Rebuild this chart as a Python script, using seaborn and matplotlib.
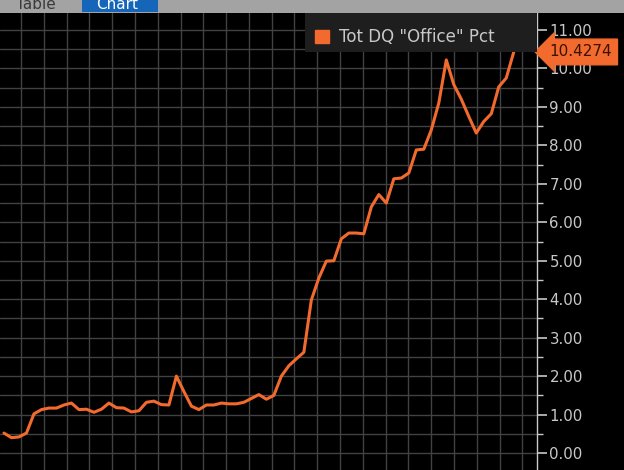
import numpy as np
import pandas as pd
import matplotlib
matplotlib.use("Agg")
import matplotlib.pyplot as plt
import seaborn as sns
from matplotlib.patches import Patch, Rectangle
from matplotlib.ticker import MultipleLocator, FormatStrFormatter

# Tot DQ "Office" Pct, monthly readings
dq_pct = [0.52, 0.40, 0.42, 0.52, 1.02, 1.13, 1.17, 1.17, 1.25, 1.30,
          1.13, 1.14, 1.06, 1.14, 1.30, 1.18, 1.17, 1.07, 1.10, 1.32,
          1.35, 1.26, 1.25, 2.00, 1.60, 1.22, 1.13, 1.25, 1.25, 1.30,
          1.28, 1.28, 1.32, 1.42, 1.52, 1.40, 1.50, 2.00, 2.27, 2.45,
          2.62, 3.98, 4.55, 4.99, 5.00, 5.57, 5.72, 5.72, 5.70, 6.40,
          6.72, 6.50, 7.13, 7.15, 7.28, 7.88, 7.90, 8.40, 9.10, 10.22,
          9.58, 9.20, 8.75, 8.32, 8.62, 8.82, 9.52, 9.75, 10.4274]
series_name = 'Tot DQ "Office" Pct'
last_label = "10.4274"

LINE = "#f26a2e"
GRID = "#424242"
TXT = "#c8c8c8"

df = pd.DataFrame({"t": np.arange(len(dq_pct)), "v": dq_pct})

sns.set_style("dark")
plt.rcParams["font.family"] = ["DejaVu Sans"]

W, H = 624, 470
AW, AH = 537, 457
fig = plt.figure(figsize=(W / 100, H / 100), dpi=100, facecolor="black")
ax = fig.add_axes([0, 0, AW / W, AH / H])
ax.set_facecolor("black")

sns.lineplot(data=df, x="t", y="v", color=LINE, lw=2.2, ax=ax)

ax.set_xlim(-0.53, 71.1)
ax.set_ylim(-0.44, 11.44)
ax.set_xticks(np.arange(2.27, 71, 3.04))
ax.set_xticklabels([])
ax.tick_params(axis="x", length=0)

ax.yaxis.tick_right()
ax.yaxis.set_major_locator(MultipleLocator(1))
ax.yaxis.set_minor_locator(MultipleLocator(0.5))
ax.yaxis.set_major_formatter(FormatStrFormatter("%.2f"))
ax.tick_params(axis="y", which="major", length=7, width=1.2, color=TXT,
               labelcolor=TXT, labelsize=10.8, pad=2)
ax.tick_params(axis="y", which="minor", length=4, width=1, color=TXT)
ax.grid(True, which="both", color=GRID, lw=1)
ax.set_xlabel("")
ax.set_ylabel("")
for s in ["top", "left", "bottom"]:
    ax.spines[s].set_visible(False)
ax.spines["right"].set_visible(True)
ax.spines["right"].set_color(TXT)
ax.spines["right"].set_linewidth(1)

# legend panel: dark box spanning to the axis edge
ax.add_patch(Rectangle((305 / AW, 1 - 39 / AH), 1 - 305 / AW, 39 / AH,
                       transform=ax.transAxes, fc="#1e1e1e", ec="none", zorder=4))
leg = ax.legend(handles=[Patch(color=LINE, label=series_name)], loc="upper left",
                bbox_to_anchor=(310 / AW, 1 - 10 / AH), borderaxespad=0, fontsize=12,
                handlelength=0.85, handleheight=0.85, handletextpad=0.6,
                borderpad=0.3, frameon=False)
leg.set_zorder(5)
for t in leg.get_texts():
    t.set_color(TXT)

# last value tag
ax.annotate(last_label, xy=(1, dq_pct[-1]), xycoords=("axes fraction", "data"),
            xytext=(9, 0), textcoords="offset points", va="center", ha="left",
            fontsize=11, color="#3a1200", annotation_clip=False,
            bbox=dict(boxstyle="larrow,pad=0.35", fc=LINE, ec=LINE))

# top tab strip
fig.patches.append(Rectangle((0, 1 - 13 / H), 1, 13 / H, transform=fig.transFigure,
                             fc="#a3a3a3", ec="none", zorder=0))
fig.patches.append(Rectangle((82 / W, 1 - 12 / H), 76 / W, 12 / H, transform=fig.transFigure,
                             fc="#1565b8", ec="none", zorder=1))
fig.text(16 / W, 1 - 9 / H, "Table", color="#3a3a3a", fontsize=11, va="baseline")
fig.text(96 / W, 1 - 9 / H, "Chart", color="white", fontsize=11, va="baseline")

fig.savefig("out.png", dpi=100, facecolor="black")
